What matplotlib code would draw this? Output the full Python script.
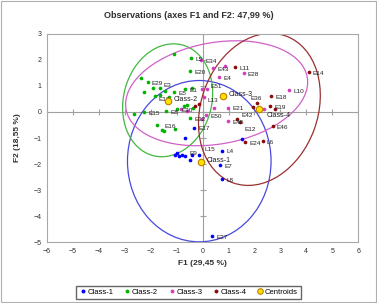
import matplotlib
matplotlib.use("Agg")
import matplotlib.pyplot as plt
from matplotlib.patches import Ellipse, Rectangle
from matplotlib.lines import Line2D

plt.rcParams['font.family'] = ['Liberation Sans', 'DejaVu Sans']

# ---- data ----
class1_x = [1.52, 0.75, -0.32, -0.69, -0.99, -1.05, -0.93, -0.80, -0.67, -0.47, -0.41, -0.15, 0.68, 0.75, 0.36]
class1_y = [-1.03, -1.48, -0.60, -1.01, -1.57, -1.64, -1.70, -1.64, -1.70, -1.83, -1.64, -1.64, -2.03, -2.58, -4.77]
class1_lab = ["", "L4", "E17", "", "", "", "", "", "E9", "", "", "L15", "E7", "L8", "E27"]

class2_x = [-1.09, -0.45, -0.49, -2.39, -2.12, -1.93, -2.25, -1.85, -1.66, -1.44, -1.09, -1.63, -1.30, -0.68, -0.41,
            -0.99, -0.72, -0.61, -0.37, -1.40, -2.25, -2.65, -1.76, -1.57, -1.48, -0.49, -1.05]
class2_y = [2.21, 2.07, 1.57, 1.31, 1.15, 0.91, 0.75, 0.60, 0.91, 0.81, 0.78, 0.65, 0.56, 0.88, 0.91,
            0.10, 0.23, 0.27, 0.17, 0.03, 0.00, -0.09, -0.50, -0.70, -0.74, -0.23, -0.67]
class2_lab = ["", "L5", "E20", "", "E29", "", "", "E13", "E3", "", "E5", "", "", "E1", "",
              "E30", "", "", "", "E8", "E15", "", "", "E16", "", "E32", ""]

class3_x = [0.40, 0.88, 1.58, 0.64, 0.15, 0.04, 0.42, 0.98, 0.13, 0.98, 3.35, -0.82, -0.03, -0.03, -0.61, 2.36, -0.05]
class3_y = [1.68, 1.78, 1.49, 1.33, 0.88, 0.56, 0.17, 0.17, -0.13, -0.35, 0.84, 0.10, 0.88, -0.28, 0.04, 0.10, 2.00]
class3_lab = ["E43", "", "E28", "E4", "E51", "L13", "", "E21", "E50", "E45", "L10", "", "", "", "", "", "E34"]

class4_x = [4.09, 1.26, 2.64, 2.11, 1.94, 2.61, 2.81, 1.32, 1.46, 2.70, 1.65, 2.32, -0.15, -0.31]
class4_y = [1.55, 1.72, 0.60, 0.33, 0.19, 0.23, 0.13, -0.28, -0.39, -0.54, -1.16, -1.12, 0.30, 0.23]
class4_lab = ["E14", "L11", "E18", "", "E36", "E19", "", "E42", "E12", "E46", "E24", "L6", "", ""]

centroid_x = [-0.07, -1.34, 0.78, 2.19]
centroid_y = [-1.92, 0.43, 0.60, 0.10]
centroid_lab = ["Class-1", "Class-2", "Class-3", "Class-4"]

# ellipses: center x, center y, width, height, angle
ell_cx = [-0.13, -1.35, 0.54, 2.19]
ell_cy = [-1.89, 0.45, 0.72, 0.10]
ell_w = [5.54, 4.4, 7.1, 6.0]
ell_h = [6.2, 3.4, 3.9, 4.5]
ell_ang = [0, 75, 10, 70]

xticks = [-6, -5, -4, -3, -2, -1, 0, 1, 2, 3, 4, 5, 6]
yticks = [-5, -4, -3, -2, -1, 0, 1, 2, 3]

point_colors = ["#0000FF", "#00B400", "#D040C0", "#8B0A0A"]
ell_colors = ["#4848E0", "#40B840", "#D060C8", "#9A3030"]
class_names = ["Class-1", "Class-2", "Class-3", "Class-4"]

# label offsets (points) for crowded labels
label_offset = {"E36": (-2, 6), "E19": (3, -1), "E12": (3, -5), "E42": (3, 3),
                "E16": (2, 3), "E51": (3, 2), "L13": (3, -2), "E13": (3, -2), "E3": (3, 2),
                "Class-4": (5, -4.5), "E9": (3, 2), "L15": (4, 4)}

fig = plt.figure(figsize=(3.77, 3.03), dpi=100)
fig.patches.append(Rectangle((0.003, 0.003), 0.994, 0.994, transform=fig.transFigure,
                             fill=False, edgecolor="#B0B0B0", linewidth=0.8))
ax = fig.add_axes([0.125, 0.201, 0.825, 0.687])

ax.axhline(0, color="#A0A0A0", linewidth=0.8, zorder=1)
ax.axvline(0, color="#A0A0A0", linewidth=0.8, zorder=1)
ax.plot(xticks, [0] * len(xticks), linestyle="none", marker="|", markersize=4,
        color="#A0A0A0", markeredgewidth=0.8, zorder=1)
ax.plot([0] * len(yticks), yticks, linestyle="none", marker="_", markersize=4,
        color="#A0A0A0", markeredgewidth=0.8, zorder=1)

for cx, cy, w, h, a, c in zip(ell_cx, ell_cy, ell_w, ell_h, ell_ang, ell_colors):
    ax.add_patch(Ellipse((cx, cy), w, h, angle=a, fill=False, edgecolor=c, linewidth=0.9, zorder=2))

classes = [(class1_x, class1_y, class1_lab), (class2_x, class2_y, class2_lab),
           (class3_x, class3_y, class3_lab), (class4_x, class4_y, class4_lab)]
for (xs, ys, labs), col in zip(classes, point_colors):
    ax.scatter(xs, ys, s=7, color=col, zorder=3, linewidths=0)
    for x, y, l in zip(xs, ys, labs):
        if l:
            ax.annotate(l, (x, y), xytext=label_offset.get(l, (3, -1)), textcoords="offset points",
                        fontsize=4.6, color="#202020", va="center", zorder=4)

ax.scatter(centroid_x, centroid_y, s=22, color="#FFE000", edgecolors="#C08000",
           linewidths=0.8, zorder=5)
for x, y, l in zip(centroid_x, centroid_y, centroid_lab):
    ax.annotate(l, (x, y), xytext=label_offset.get(l, (4, 1)), textcoords="offset points",
                fontsize=5, color="#202020", va="center", zorder=6)

ax.set_xlim(-6, 6)
ax.set_ylim(-5, 3)
ax.set_xticks(xticks)
ax.set_yticks(yticks)
ax.tick_params(length=0, labelsize=5, colors="#303030", pad=4)
for s in ax.spines.values():
    s.set_color("#A8A8A8")
    s.set_linewidth(0.8)

ax.set_xlabel("F1 (29,45 %)", fontsize=6, fontweight="bold", color="#303030", labelpad=4)
ax.set_ylabel("F2 (18,55 %)", fontsize=6, fontweight="bold", color="#303030", labelpad=9)
fig.text(0.5, 0.95, "Observations (axes F1 and F2: 47,99 %)", ha="center", va="center",
         fontsize=6.5, fontweight="bold", color="#303030")

handles = [Line2D([], [], linestyle="none", marker="o", markersize=2.8, color=c,
                  markeredgewidth=0) for c in point_colors]
handles.append(Line2D([], [], linestyle="none", marker="o", markersize=4, markerfacecolor="#FFE000",
                      markeredgecolor="#C08000", markeredgewidth=0.8))
fig.legend(handles, class_names + ["Centroids"], loc="lower center", bbox_to_anchor=(0.5, 0.0),
           ncol=5, fontsize=5.5, frameon=True, fancybox=False, edgecolor="#404040",
           handletextpad=0.1, columnspacing=1.3, handlelength=1.0, borderpad=0.4)

fig.savefig("out.png", dpi=100)
